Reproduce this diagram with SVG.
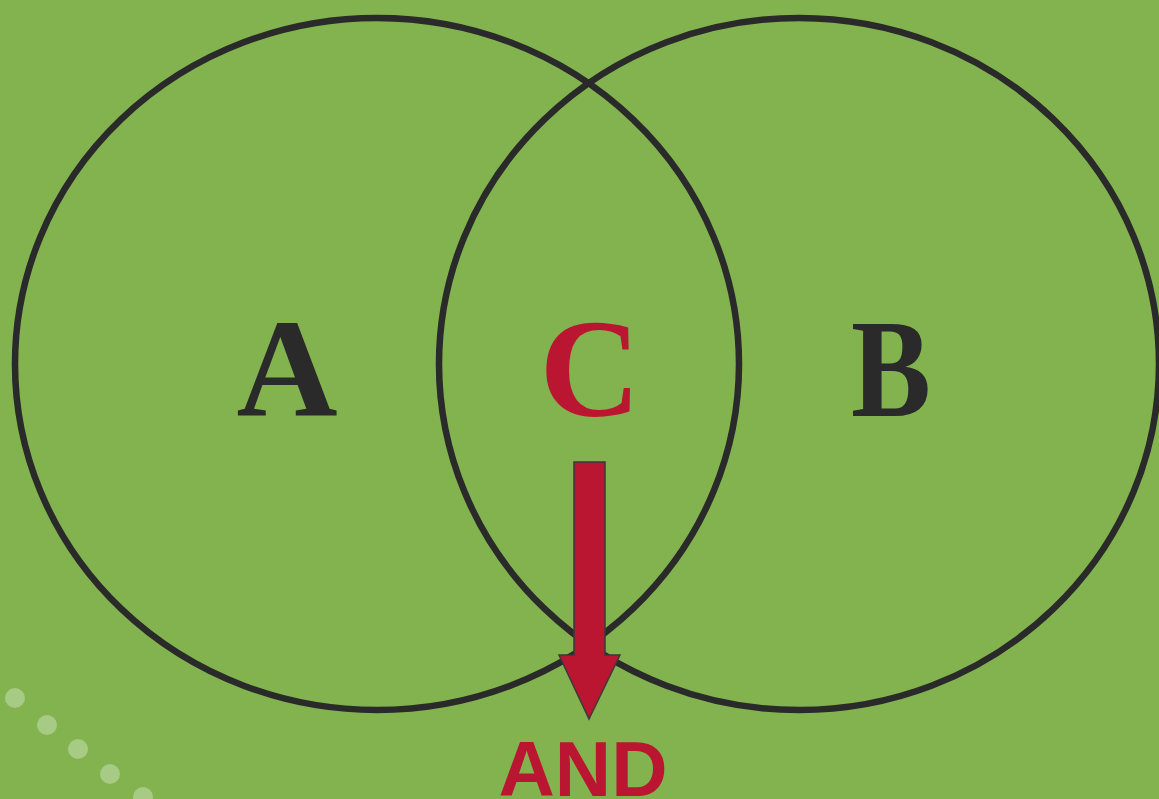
<svg xmlns="http://www.w3.org/2000/svg" width="1159" height="799" viewBox="0 0 1159 799">
<style>
.ring{fill:none;stroke:#2a2a2a;stroke-width:6.5}
.big{font-family:"Liberation Serif","DejaVu Serif",serif;font-weight:bold;font-size:140px;text-anchor:middle}
.dot{fill:#ffffff;fill-opacity:0.3}
</style>
<rect width="1159" height="799" fill="#82B34F"/>
<g id="dots">
<circle class="dot" cx="15" cy="698" r="10"/>
<circle class="dot" cx="47" cy="725" r="10"/>
<circle class="dot" cx="78" cy="749" r="10"/>
<circle class="dot" cx="110" cy="774" r="10"/>
<circle class="dot" cx="143" cy="797" r="10"/>
</g>
<g id="setA">
<ellipse class="ring" cx="377" cy="364" rx="362" ry="346"/>
<text class="big" x="287" y="416" fill="#2a2a2a">A</text>
</g>
<g id="setB">
<ellipse class="ring" cx="799" cy="364" rx="360" ry="346"/>
<text class="big" x="891" y="416" fill="#2a2a2a" textLength="80" lengthAdjust="spacingAndGlyphs">B</text>
</g>
<g id="intersection">
<text class="big" x="590" y="416" fill="#BA1632">C</text>
</g>
<g id="connectors">
<path d="M574,462 L605,462 L605,655 L620,655 L589,719 L559,655 L574,655 Z" fill="#BA1632" stroke="#3a3a3a" stroke-width="1.5"/>
</g>
<g id="result">
<text x="583" y="796" font-family="'Liberation Sans','DejaVu Sans',sans-serif" font-weight="bold" font-size="78" fill="#BA1632" text-anchor="middle">AND</text>
</g>
</svg>
